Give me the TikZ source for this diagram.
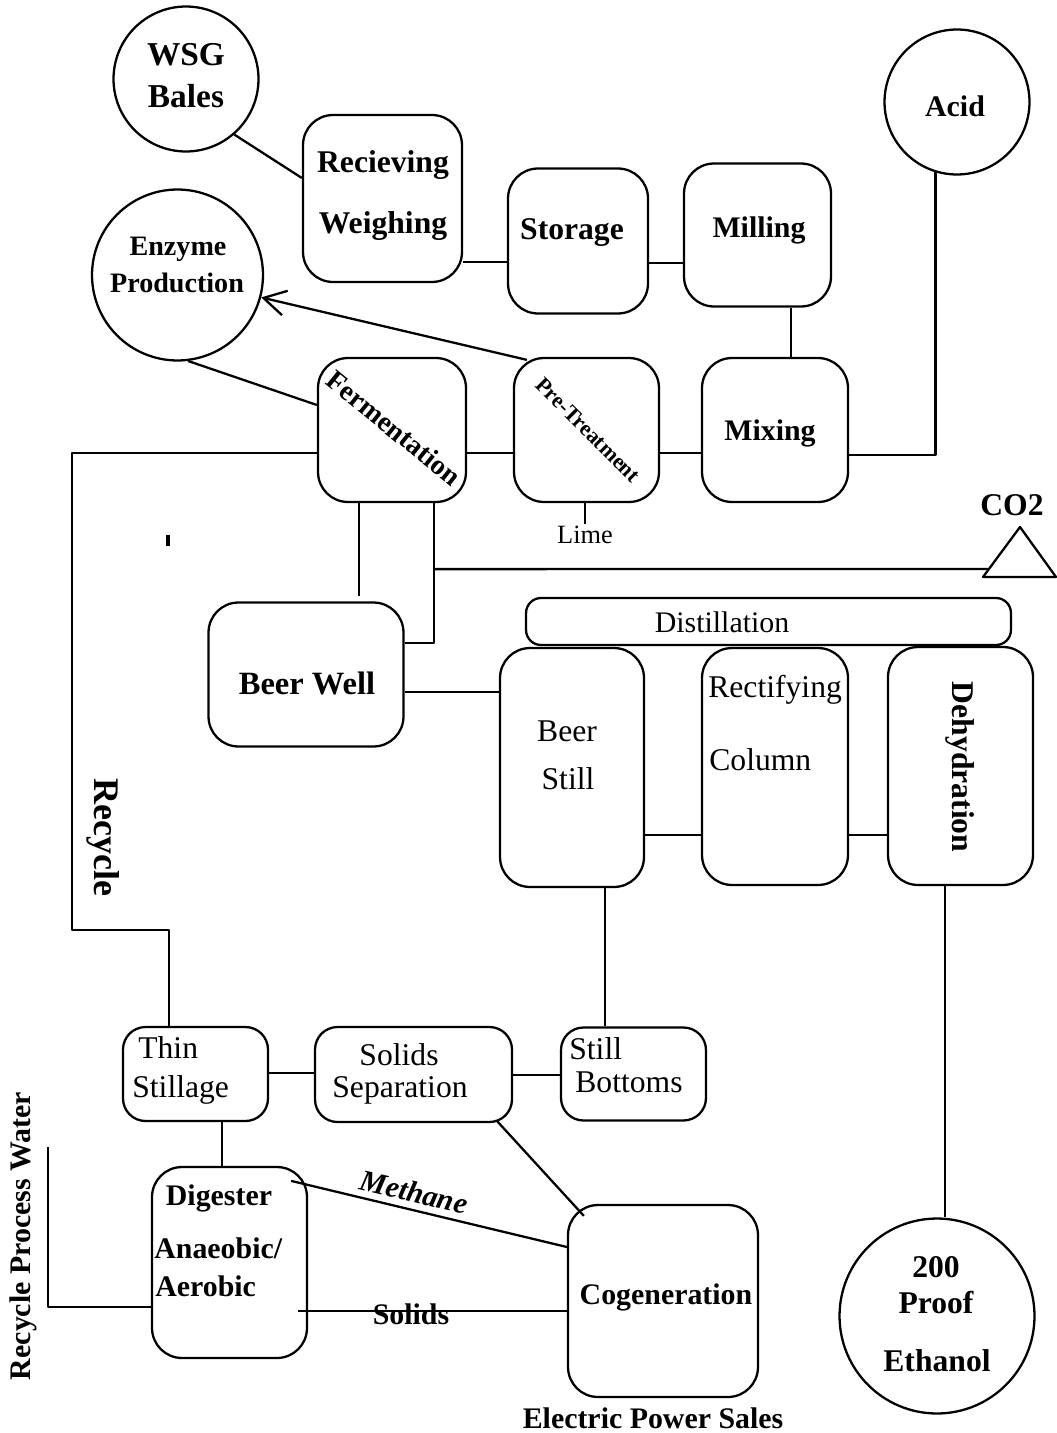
\documentclass[tikz,border=0pt]{standalone}
\usepackage{fontspec}
\setmainfont{Liberation Serif}
\usetikzlibrary{arrows.meta,calc}

\begin{document}
\begin{tikzpicture}[x=0.02cm,y=-0.02cm,line join=round,
  proc/.style={draw,line width=1.3pt,rounded corners=0.6cm,inner sep=0pt},
  small/.style={draw,line width=1.3pt,rounded corners=0.45cm,inner sep=0pt},
  src/.style={draw,circle,line width=1.3pt,inner sep=0pt},
  wire/.style={line width=1.3pt},
  bt/.style={inner sep=0pt,font=\fontsize{18}{21}\selectfont\bfseries},
  rt/.style={inner sep=0pt,font=\fontsize{18}{21}\selectfont}]
  \useasboundingbox (0,0) rectangle (1056,1433);

  % feed stock and supplies
  \node[src,minimum size=2.9cm] (wsg) at (186,79) {};
  \node[src,minimum size=3.42cm] (enz) at (177.5,275) {};
  \node[src,minimum size=2.9cm] (acid) at (957,102) {};
  \node[src,minimum size=3.9cm] (eth) at (937,1316) {};
  \node[bt,font=\fontsize{19}{22}\selectfont\bfseries] (wsg1) at (186,55) {WSG};
  \node[bt,font=\fontsize{19}{22}\selectfont\bfseries] (wsg2) at (186,96) {Bales};
  \node[bt,font=\fontsize{16}{19}\selectfont\bfseries] (enz1) at (178,249) {Enzyme};
  \node[bt,font=\fontsize{16}{19}\selectfont\bfseries] (enz2) at (177,283) {Production};
  \node[bt,font=\fontsize{17}{20}\selectfont\bfseries] (acid1) at (955,106) {Acid};
  \node[bt] (eth1) at (936,1267) {200};
  \node[bt] (eth2) at (936,1303) {Proof};
  \node[bt] (eth3) at (937,1361) {Ethanol};

  % front end
  \node[proc,minimum width=3.18cm,minimum height=3.34cm] (recv) at (382.5,198.5) {};
  \node[proc,minimum width=2.8cm,minimum height=2.9cm] (stor) at (578,241) {};
  \node[proc,minimum width=2.94cm,minimum height=2.86cm] (mill) at (757.5,235) {};
  \node[proc,minimum width=2.96cm,minimum height=2.88cm] (ferm) at (392,430) {};
  \node[proc,minimum width=2.9cm,minimum height=2.88cm] (pret) at (586.5,430) {};
  \node[proc,minimum width=2.92cm,minimum height=2.88cm] (mix) at (775,430) {};
  \node[bt] (recv1) at (383,165) {Recieving};
  \node[bt] (recv2) at (383,226) {Weighing};
  \node[bt] (stor1) at (572,233) {Storage};
  \node[bt,font=\fontsize{17}{20}\selectfont\bfseries] (mill1) at (759,230) {Milling};
  \node[bt,rotate=-39,font=\fontsize{16}{19}\selectfont\bfseries] (ferm1) at (394,428) {Fermentation};
  \node[bt,rotate=-45,font=\fontsize{12.5}{15}\selectfont\bfseries] (pret1) at (588,430) {Pre-Treatment};
  \node[bt,font=\fontsize{17}{20}\selectfont\bfseries] (mix1) at (770,433) {Mixing};
  \node[rt,font=\fontsize{15}{18}\selectfont] (lime) at (585,535) {Lime};

  % distillation
  \node[proc,minimum width=3.9cm,minimum height=2.88cm] (bw) at (306,674.5) {};
  \node[draw,line width=1.3pt,rounded corners=0.3cm,minimum width=9.7cm,minimum height=0.94cm] (dist) at (768.5,621.5) {};
  \node[proc,minimum width=2.88cm,minimum height=4.78cm] (still) at (572,767.5) {};
  \node[proc,minimum width=2.92cm,minimum height=4.74cm] (rect) at (775,766.5) {};
  \node[proc,minimum width=2.9cm,minimum height=4.76cm] (dehy) at (960.5,766) {};
  \node[bt,font=\fontsize{18.5}{21}\selectfont\bfseries] (bw1) at (307,683) {Beer Well};
  \node[rt,font=\fontsize{17}{20}\selectfont] (dist1) at (722,622) {Distillation};
  \node[rt] (still1) at (567,731) {Beer};
  \node[rt] (still2) at (568,779) {Still};
  \node[rt,anchor=west] (rect1) at (708,690) {Rectifying};
  \node[rt,anchor=west] (rect2) at (709,760) {Column};
  \node[bt,rotate=-90] (dehy1) at (960,767) {Dehydration};
  \node[bt] (co2t) at (1012,505) {CO2};
  \coordinate (co2a) at (1020,527);
  \coordinate (co2l) at (983,577);
  \coordinate (co2r) at (1056,577);
  \coordinate (co2in) at (988,569);

  % back end
  \node[small,minimum width=2.9cm,minimum height=1.88cm] (thin) at (195.5,1074) {};
  \node[small,minimum width=3.94cm,minimum height=1.9cm] (solsep) at (413.5,1074.5) {};
  \node[small,minimum width=2.9cm,minimum height=1.86cm] (bot) at (633.5,1074) {};
  \node[proc,minimum width=3.1cm,minimum height=3.82cm] (dig) at (229.5,1262.5) {};
  \node[proc,minimum width=3.8cm,minimum height=3.84cm] (cogen) at (663,1301) {};
  \node[rt,anchor=west] (thin1) at (138,1048) {Thin};
  \node[rt,anchor=west] (thin2) at (132,1090) {Stillage};
  \node[rt] (solsep1) at (399,1055) {Solids};
  \node[rt] (solsep2) at (400,1090) {Separation};
  \node[rt,anchor=west] (bot1) at (569,1049) {Still};
  \node[rt,anchor=west] (bot2) at (575,1082) {Bottoms};
  \node[bt,font=\fontsize{17}{20}\selectfont\bfseries] (dig1) at (219,1198) {Digester};
  \node[bt,anchor=west,font=\fontsize{17}{20}\selectfont\bfseries] (dig2) at (154,1248) {Anaeobic/};
  \node[bt,anchor=west,font=\fontsize{17}{20}\selectfont\bfseries] (dig3) at (155,1286) {Aerobic};
  \node[bt,font=\fontsize{17}{20}\selectfont\bfseries] (cogen1) at (666,1297) {Cogeneration};
  \node[bt,font=\fontsize{17}{20}\selectfont\bfseries] (eps) at (653,1418) {Electric Power Sales};
  \node[bt,rotate=-13,font=\fontsize{17}{20}\selectfont\bfseries\itshape] (meth) at (414,1192) {Methane};
  \node[bt,font=\fontsize{17}{20}\selectfont\bfseries] (sol) at (411,1314) {Solids};
  \node[bt,rotate=-90,font=\fontsize{20.5}{24}\selectfont\bfseries] (recy) at (103,837) {Recycle};
  \node[bt,rotate=90,font=\fontsize{17}{20}\selectfont\bfseries] (rpw) at (23,1236) {Recycle Process Water};
  \coordinate (rpwtop) at (48,1147);

  % connectors
  \draw[wire] (wsg.-49) -- (recv.west |- 0,178);
  \draw[wire] (recv.east |- 0,262) -- (stor.west |- 0,262);
  \draw[wire] (stor.east |- 0,263) -- (mill.west |- 0,263);
  \draw[wire] (mill.south -| 791,0) -- (mix.north -| 791,0);
  \draw[wire] (acid.-107) |- (mix.east |- 0,455);
  \draw[wire,-{Straight Barb[length=4.4mm,width=5mm]}] ($(pret.north west)+(14,3)$) -- (enz.-15);
  \draw[wire] (enz.-83) -- (ferm.west |- 0,405);
  \draw[wire] (ferm.east |- 0,453) -- (pret.west |- 0,453);
  \draw[wire] (pret.east |- 0,453) -- (mix.west |- 0,453);
  \draw[wire] (pret.south -| lime) -- ++(0,21);
  \draw[wire] (ferm.south -| 359,0) -- ($(bw.north -| 359,0)+(0,-5)$);
  \draw[wire] (ferm.south -| 434,0) |- (bw.east |- 0,643);
  \draw[wire] (ferm.south -| 434,0) ++(0,66) -- (co2in);
  \draw[wire] (co2l) -- (co2a) -- (co2r) -- cycle;
  \draw[wire] (bw.east |- 0,692) -- (still.west |- 0,692);
  \draw[wire] (still.east |- 0,835) -- (rect.west |- 0,835);
  \draw[wire] (rect.east |- 0,835) -- (dehy.west |- 0,835);
  \draw[wire] (still.south -| 605,0) -- (bot.north -| 605,0);
  \draw[wire] (dehy.south -| 945,0) -- (eth.north -| 945,0);
  \draw[wire] (ferm.west |- 0,453) -| (72,930) -| (thin.north -| 169,0);
  \draw[line width=2pt] (168,535) -- (168,546);
  \draw[wire] (thin.east |- 0,1073) -- (solsep.west |- 0,1073);
  \draw[wire] (solsep.east |- 0,1075) -- (bot.west |- 0,1075);
  \draw[wire] (thin.south -| 222,0) -- (dig.north -| 222,0);
  \draw[wire] ($(solsep.south east)+(-16,-2)$) -- ($(cogen.north west)+(17,12)$);
  \draw[wire] ($(dig.north east)+(-17,15)$) -- (cogen.west |- 0,1247);
  \draw[wire] ($(dig.east |- 0,1311)+(-10,0)$) -- (cogen.west |- 0,1311);
  \draw[wire] (rpwtop) |- (dig.west |- 0,1307);
\end{tikzpicture}
\end{document}
